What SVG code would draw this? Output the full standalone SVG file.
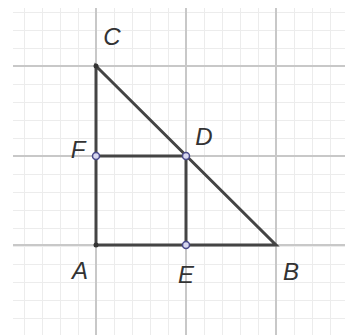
<svg xmlns="http://www.w3.org/2000/svg" width="345" height="335" viewBox="0 0 345 335">
<defs>
<pattern id="minor" x="6" y="12" width="18" height="18" patternUnits="userSpaceOnUse">
<path d="M0 0.5H18M0.5 0V18" stroke="#ececec" stroke-width="1" fill="none"/>
</pattern>
</defs>
<style>
.major{stroke:#c8c8c8;stroke-width:2;fill:none}
.seg{stroke:#444;stroke-width:3;fill:none;stroke-linecap:round}
.pt{fill:#d8d8f0;stroke:#4a4a8a;stroke-width:1.5}
.dot{fill:#333}
.lbl{font-family:"Liberation Sans",Arial,sans-serif;font-style:italic;font-size:24px;fill:#333;text-anchor:middle}
</style>
<rect width="345" height="335" fill="#fff"/>
<g id="grid">
<rect x="13" y="8" width="332" height="327" fill="url(#minor)"/>
<path class="major" d="M96 8V335M186 8V335M276 8V335M13 66H345M13 156H345M13 245H345"/>
</g>
<g id="connectors">
<path class="seg" d="M96 245H276L96 66Z"/>
<path class="seg" d="M96 156H186V245"/>
</g>
<g id="C"><circle class="dot" cx="96" cy="66" r="2.5"/><text class="lbl" x="112" y="45">C</text></g>
<g id="A"><circle class="dot" cx="96" cy="245" r="2.5"/><text class="lbl" x="80" y="279">A</text></g>
<g id="B"><text class="lbl" x="291" y="280">B</text></g>
<g id="F"><circle class="pt" cx="96" cy="156" r="3.5"/><text class="lbl" x="78" y="158">F</text></g>
<g id="D"><circle class="pt" cx="186" cy="156" r="3.5"/><text class="lbl" x="204" y="145">D</text></g>
<g id="E"><circle class="pt" cx="186" cy="245" r="3.5"/><text class="lbl" x="186" y="283">E</text></g>
</svg>
